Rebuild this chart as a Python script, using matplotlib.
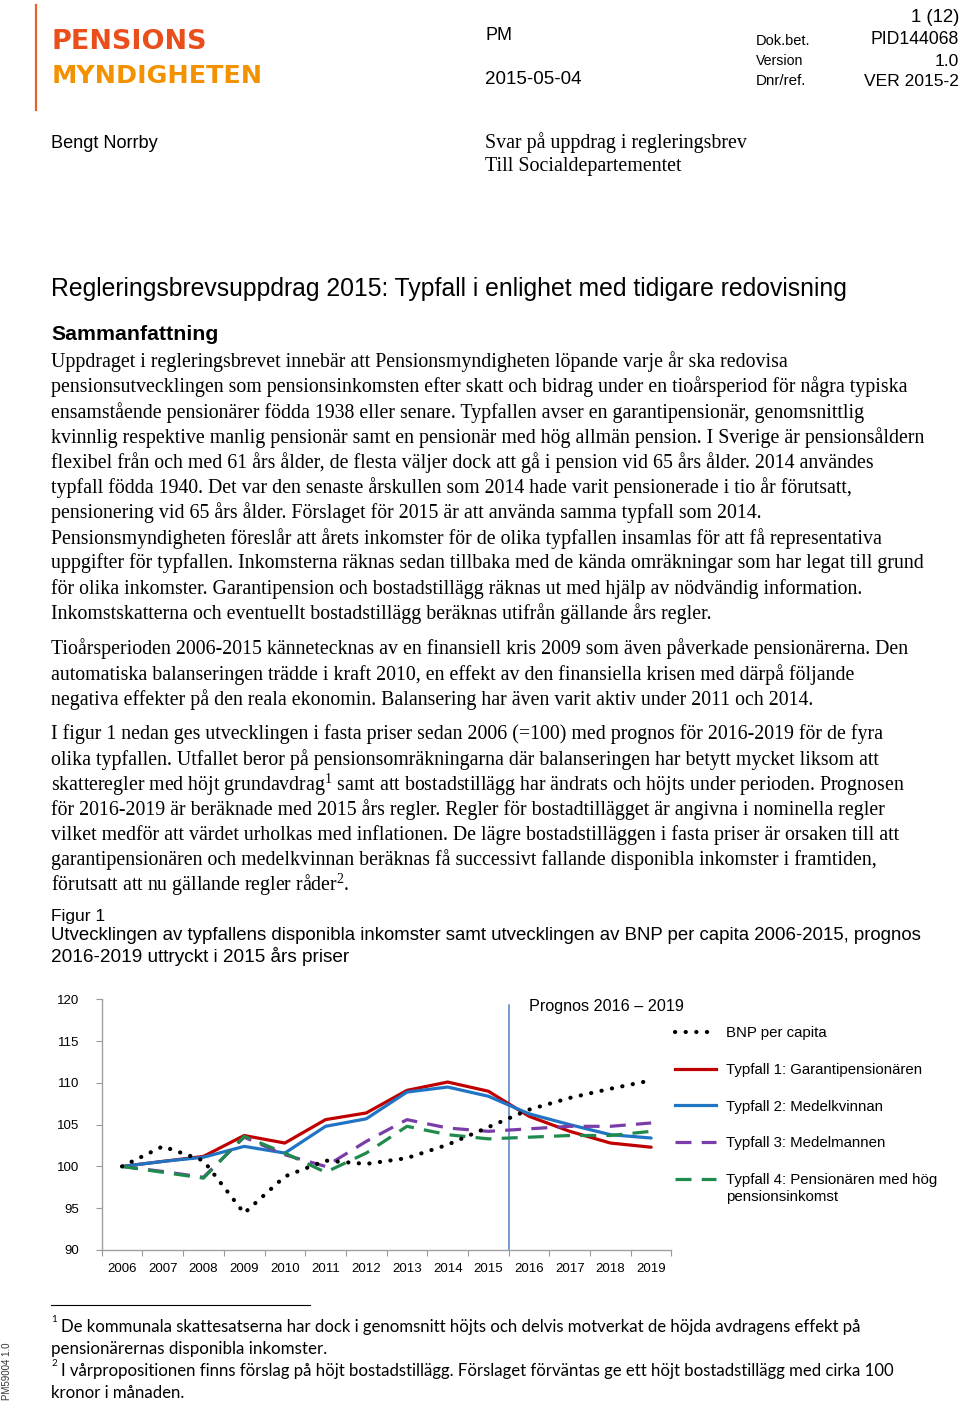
import matplotlib
matplotlib.use("Agg")
import matplotlib.pyplot as plt
from matplotlib.lines import Line2D

# ---------------- data ----------------
years = ["2006", "2007", "2008", "2009", "2010", "2011", "2012",
         "2013", "2014", "2015", "2016", "2017", "2018", "2019"]
bnp = [100.0, 102.4, 100.7, 94.4, 98.8, 100.7, 100.3,
       101.0, 102.6, 104.7, 106.8, 108.2, 109.3, 110.3]
typfall1 = [100.0, 100.6, 101.2, 103.7, 102.8, 105.6, 106.4,
            109.1, 110.1, 109.0, 106.0, 104.2, 102.8, 102.3]
typfall2 = [100.0, 100.6, 101.1, 102.4, 101.6, 104.8, 105.7,
            108.9, 109.5, 108.4, 106.3, 105.0, 103.8, 103.4]
typfall3 = [100.0, 99.4, 98.7, 103.5, 101.4, 100.0, 103.0,
            105.6, 104.6, 104.2, 104.5, 104.8, 104.8, 105.2]
typfall4 = [100.0, 99.3, 98.6, 103.6, 101.6, 99.3, 101.6,
            104.8, 103.8, 103.3, 103.5, 103.7, 103.7, 104.2]
series_labels = ["BNP per capita", "Typfall 1: Garantipensionären",
                 "Typfall 2: Medelkvinnan", "Typfall 3: Medelmannen",
                 "Typfall 4: Pensionären med hög"]
label4_cont = "pensionsinkomst"
yticks = [90, 95, 100, 105, 110, 115, 120]
prognos_label = "Prognos 2016 \u2013 2019"

# ---------------- page ----------------
W, H = 960, 1408
fig = plt.figure(figsize=(W / 100, H / 100), dpi=100)
renderer = fig.canvas.get_renderer()

SANS = "Liberation Sans"
SERIF = "Liberation Serif"


def put(x, y, s, size=10, family=SANS, width=None, ha="left", va="center", **kw):
    t = fig.text(x / W, 1 - y / H, s, fontsize=size, family=family, ha=ha, va=va, **kw)
    if width is not None:
        bb = t.get_window_extent(renderer)
        t.set_fontsize(size * width / bb.width)
    return t


# logo
fig.add_artist(Line2D([36 / W, 36 / W], [1 - 5 / H, 1 - 110 / H], color="#E8632B", lw=1.6))
put(52, 42, "PENSIONS", size=20, family="DejaVu Sans", width=155, color="#E94E1B", weight="bold")
put(52, 76, "MYNDIGHETEN", size=20, family="DejaVu Sans", width=210, color="#F39200", weight="bold")

# header
put(485, 36, "PM", size=13)
put(485, 80, "2015-05-04", size=11, width=96)
put(756, 41, "Dok.bet.", size=8.5, width=54)
put(756, 61, "Version", size=8.5, width=47)
put(756, 81, "Dnr/ref.", size=8.5, width=50)
put(959, 18, "1 (12)", size=11, ha="right", width=49)
put(959, 40, "PID144068", size=11, ha="right", width=88)
put(959, 61, "1.0", size=11, ha="right", width=24)
put(959, 81, "VER 2015-2", size=11, ha="right", width=95)

put(51, 144, "Bengt Norrby", size=11.5, width=107)
put(485, 143, "Svar på uppdrag i regleringsbrev", size=13, family=SERIF, width=260)
put(485, 166, "Till Socialdepartementet", size=13, family=SERIF, width=196)

put(51, 289, "Regleringsbrevsuppdrag 2015: Typfall i enlighet med tidigare redovisning",
    size=15, width=800)
put(51, 334, "Sammanfattning", size=12, weight="bold", width=166)

# body text size fitted from first line
t0 = put(51, 362, "Uppdraget i regleringsbrevet innebär att Pensionsmyndigheten löpande varje år ska redovisa",
         size=13, family=SERIF, width=731)
BODY = t0.get_fontsize()

para1 = [
    "pensionsutvecklingen som pensionsinkomsten efter skatt och bidrag under en tioårsperiod för några typiska",
    "ensamstående pensionärer födda 1938 eller senare. Typfallen avser en garantipensionär, genomsnittlig",
    "kvinnlig respektive manlig pensionär samt en pensionär med hög allmän pension. I Sverige är pensionsåldern",
    "flexibel från och med 61 års ålder, de flesta väljer dock att gå i pension vid 65 års ålder. 2014 användes",
    "typfall födda 1940. Det var den senaste årskullen som 2014 hade varit pensionerade i tio år förutsatt,",
    "pensionering vid 65 års ålder. Förslaget för 2015 är att använda samma typfall som 2014.",
    "Pensionsmyndigheten föreslår att årets inkomster för de olika typfallen insamlas för att få representativa",
    "uppgifter för typfallen. Inkomsterna räknas sedan tillbaka med de kända omräkningar som har legat till grund",
    "för olika inkomster. Garantipension och bostadstillägg räknas ut med hjälp av nödvändig information.",
    "Inkomstskatterna och eventuellt bostadstillägg beräknas utifrån gällande års regler.",
]
for i, line in enumerate(para1):
    put(51, 387 + i * 25.2, line, size=BODY, family=SERIF)

para2 = [
    "Tioårsperioden 2006-2015 kännetecknas av en finansiell kris 2009 som även påverkade pensionärerna. Den",
    "automatiska balanseringen trädde i kraft 2010, en effekt av den finansiella krisen med därpå följande",
    "negativa effekter på den reala ekonomin. Balansering har även varit aktiv under 2011 och 2014.",
]
for i, line in enumerate(para2):
    put(51, 649 + i * 25.2, line, size=BODY, family=SERIF)

plt.rcParams["mathtext.fontset"] = "custom"
plt.rcParams["mathtext.rm"] = SERIF
plt.rcParams["mathtext.it"] = SERIF
plt.rcParams["mathtext.bf"] = SERIF
para3 = [
    "I figur 1 nedan ges utvecklingen i fasta priser sedan 2006 (=100) med prognos för 2016-2019 för de fyra",
    "olika typfallen. Utfallet beror på pensionsomräkningarna där balanseringen har betytt mycket liksom att",
    r"skatteregler med höjt grundavdrag$^{\mathrm{1}}$ samt att bostadstillägg har ändrats och höjts under perioden. Prognosen",
    "för 2016-2019 är beräknade med 2015 års regler. Regler för bostadtillägget är angivna i nominella regler",
    "vilket medför att värdet urholkas med inflationen. De lägre bostadstilläggen i fasta priser är orsaken till att",
    "garantipensionären och medelkvinnan beräknas få successivt fallande disponibla inkomster i framtiden,",
    r"förutsatt att nu gällande regler råder$^{\mathrm{2}}$.",
]
for i, line in enumerate(para3):
    put(51, 734 + i * 25.2, line, size=BODY, family=SERIF)

put(51, 917, "Figur 1", size=11, width=54)
put(51, 936, "Utvecklingen av typfallens disponibla inkomster samt utvecklingen av BNP per capita 2006-2015, prognos",
    size=11, width=867)
put(51, 956, "2016-2019 uttryckt i 2015 års priser", size=11, width=298)

# ---------------- chart ----------------
ax_left, ax_right = 101.7, 671.5
ax_top, ax_bottom = 999.3, 1250.0
ax = fig.add_axes([ax_left / W, 1 - ax_bottom / H, (ax_right - ax_left) / W, (ax_bottom - ax_top) / H])
x = list(range(len(years)))

DASH = (0, (5, 3.2))
DOT = (0, (0.05, 2.5))
ax.plot(x, typfall1, color="#C00000", lw=2.3, solid_capstyle="round", zorder=3)
ax.plot(x, typfall2, color="#1F74C4", lw=2.3, solid_capstyle="round", zorder=4)
ax.plot(x, typfall3, color="#7A3DA8", lw=2.3, linestyle=DASH, zorder=5)
ax.plot(x, typfall4, color="#1E8A4C", lw=2.3, linestyle=DASH, zorder=6)
ax.plot(x, bnp, color="black", lw=3, linestyle=DOT, dash_capstyle="round", zorder=7)

ax.axvline(9.5, ymin=0, ymax=(119.3 - 90) / 30, color="#4F7FC8", lw=1.1, zorder=2)

ax.set_xlim(-0.5, len(years) - 0.5)
ax.set_ylim(yticks[0], yticks[-1])
ax.set_yticks(yticks)
ax.set_yticklabels([str(v) for v in yticks], family=SANS, fontsize=9.5)
ax.set_xticks([i - 0.5 for i in range(len(years) + 1)])
ax.set_xticklabels([])
ax.set_xticks(x, minor=True)
ax.set_xticklabels(years, minor=True, family=SANS, fontsize=9.5)
ax.tick_params(axis="x", which="minor", length=0, pad=9)
ax.tick_params(axis="x", which="major", length=4, color="#999999", direction="out")
ax.tick_params(axis="y", length=4, color="#999999", direction="out", pad=12)
for s in ["top", "right"]:
    ax.spines[s].set_visible(False)
for s in ["left", "bottom"]:
    ax.spines[s].set_color("#A0A0A0")
    ax.spines[s].set_linewidth(1.0)
ax.patch.set_alpha(0)

put(529, 1007, prognos_label, size=10.5, width=155)

handles = [
    Line2D([], [], color="black", lw=3, linestyle=DOT, dash_capstyle="round"),
    Line2D([], [], color="#C00000", lw=2.3),
    Line2D([], [], color="#1F74C4", lw=2.3),
    Line2D([], [], color="#7A3DA8", lw=2.3, linestyle=DASH),
    Line2D([], [], color="#1E8A4C", lw=2.3, linestyle=DASH),
]
LEGSIZE = 10.8
leg = ax.legend(handles, series_labels, loc="upper left",
                bbox_to_anchor=(675 / W, 1 - 1026 / H), bbox_transform=fig.transFigure,
                frameon=False, prop={"family": SANS, "size": LEGSIZE},
                handlelength=2.75, handletextpad=0.62, labelspacing=1.52,
                borderpad=0, borderaxespad=0)
fig.canvas.draw()
bb = leg.get_texts()[-1].get_window_extent(renderer)
fig.text(bb.x0 / W, (bb.y0 - 3) / H, label4_cont, fontsize=LEGSIZE, family=SANS,
         ha="left", va="top")

# ---------------- footnotes ----------------
fig.add_artist(Line2D([51 / W, 310 / W], [1 - 1305 / H, 1 - 1305 / H], color="black", lw=0.8))
FOOT = "Lato"
put(51, 1320, "1", size=7, family=FOOT)
put(61, 1327, "De kommunala skattesatserna har dock i genomsnitt höjts och delvis motverkat de höjda avdragens effekt på",
    size=11, family=FOOT, width=798)
put(51, 1349, "pensionärernas disponibla inkomster.", size=11, family=FOOT, width=274)
put(51, 1364, "2", size=7, family=FOOT)
put(61, 1371, "I vårpropositionen finns förslag på höjt bostadstillägg. Förslaget förväntas ge ett höjt bostadstillägg med cirka 100",
    size=11, family=FOOT, width=830)
put(51, 1393, "kronor i månaden.", size=11, family=FOOT, width=134)

put(7, 1371, "PM59004 1.0", size=7, rotation=90, ha="center", color="#333333")

fig.savefig("out.png", dpi=100)
